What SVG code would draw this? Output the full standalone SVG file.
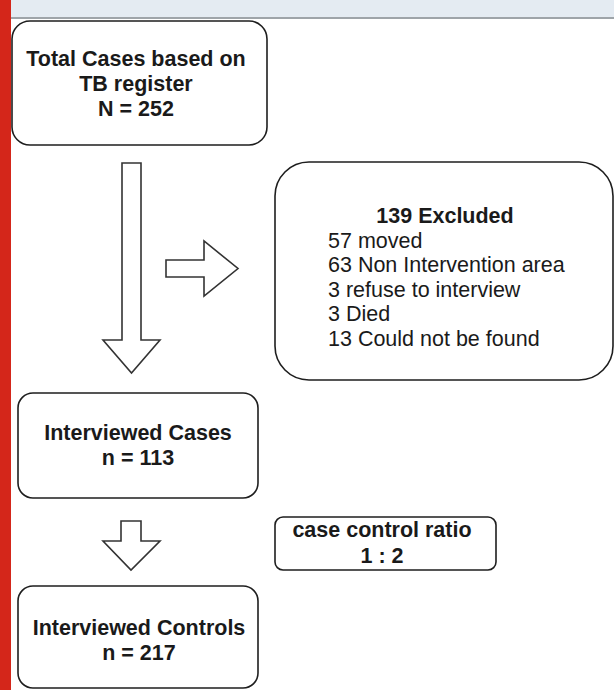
<svg xmlns="http://www.w3.org/2000/svg" width="614" height="690" viewBox="0 0 614 690">
  <style>
    .box { fill: #ffffff; stroke: #1e1e1e; stroke-width: 1.6; }
    .arrow { fill: #ffffff; stroke: #333333; stroke-width: 1.6; stroke-linejoin: miter; }
    .t { font-family: "Liberation Sans", Arial, sans-serif; font-size: 21.5px; fill: #1a1a1a; }
    .b { font-weight: bold; text-anchor: middle; }
    .r { font-weight: normal; }
  </style>
  <rect x="0" y="0" width="614" height="690" fill="#ffffff"/>
  <rect x="0" y="0" width="614" height="17" fill="#e4ebf2"/>
  <rect x="0" y="17" width="614" height="2" fill="#9ea4a9"/>
  <rect x="0" y="0" width="11" height="690" fill="#d4261a"/>

  <g id="connectors">
    <path class="arrow" d="M122,163 H141 V340 H160 L131.5,373 L103,340 H122 Z"/>
    <path class="arrow" d="M166,260 H204 V241 L238,268.5 L204,296 V277 H166 Z"/>
    <path class="arrow" d="M121,521 H141 V541 H160 L131,570 L103,541 H121 Z"/>
  </g>

  <g id="total-cases">
    <rect class="box" x="12" y="21" width="255" height="124" rx="18"/>
    <text class="t b" x="136" y="66">Total Cases based on</text>
    <text class="t b" x="136" y="91">TB register</text>
    <text class="t b" x="136" y="116">N = 252</text>
  </g>

  <g id="excluded">
    <rect class="box" x="275" y="162" width="338" height="218" rx="34"/>
    <text class="t b" x="445" y="223">139 Excluded</text>
    <text class="t r" x="328" y="247.5">57 moved</text>
    <text class="t r" x="328" y="272">63 Non Intervention area</text>
    <text class="t r" x="328" y="296.5">3 refuse to interview</text>
    <text class="t r" x="328" y="321">3 Died</text>
    <text class="t r" x="328" y="345.5">13 Could not be found</text>
  </g>

  <g id="interviewed-cases">
    <rect class="box" x="18" y="393" width="240" height="105" rx="15"/>
    <text class="t b" x="138" y="440">Interviewed Cases</text>
    <text class="t b" x="138" y="465">n = 113</text>
  </g>

  <g id="ratio">
    <rect class="box" x="275" y="517" width="221" height="53" rx="8"/>
    <text class="t b" x="382" y="537">case control ratio</text>
    <text class="t b" x="382" y="563">1 : 2</text>
  </g>

  <g id="interviewed-controls">
    <rect class="box" x="18" y="586" width="240" height="102" rx="15"/>
    <text class="t b" x="139" y="635">Interviewed Controls</text>
    <text class="t b" x="139" y="660">n = 217</text>
  </g>
</svg>
